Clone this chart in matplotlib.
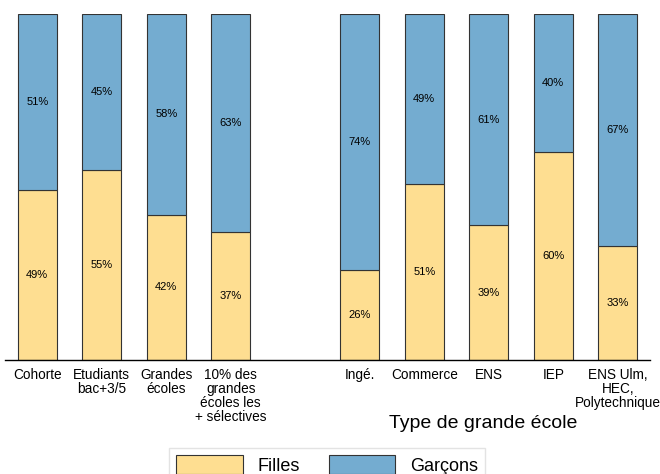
import matplotlib
matplotlib.use('Agg')
import matplotlib.pyplot as plt

plt.rcParams['font.family'] = ['Liberation Sans', 'DejaVu Sans']

# Data
categories = ['Cohorte', 'Etudiants\nbac+3/5', 'Grandes\nécoles',
              '10% des\ngrandes\nécoles les\n+ sélectives',
              'Ingé.', 'Commerce', 'ENS', 'IEP',
              'ENS Ulm,\nHEC,\nPolytechnique']
positions = [0, 1, 2, 3, 5, 6, 7, 8, 9]
filles = [49, 55, 42, 37, 26, 51, 39, 60, 33]
garcons = [51, 45, 58, 63, 74, 49, 61, 40, 67]

yellow = '#FEDE91'
blue = '#74ACD0'

fig = plt.figure(figsize=(6.6, 4.74), dpi=100)
ax = fig.add_axes([5 / 660, 114 / 474, 645 / 660, 346 / 474])

ax.bar(positions, filles, width=0.61, color=yellow, edgecolor='#333333',
       linewidth=0.8, label='Filles')
ax.bar(positions, garcons, width=0.61, bottom=filles, color=blue,
       edgecolor='#333333', linewidth=0.8, label='Garçons')

for x, f, g in zip(positions, filles, garcons):
    ax.text(x, f / 2, f'{f}%', ha='center', va='center', fontsize=8)
    ax.text(x, f + g / 2, f'{g}%', ha='center', va='center', fontsize=8)

ax.set_xlim(-0.5, 9.5)
ax.set_ylim(0, 100)
ax.set_xticks(positions)
ax.set_xticklabels(categories, fontsize=9.8, linespacing=1.0)
ax.tick_params(axis='x', length=0, pad=6)
ax.set_yticks([])
for side in ['left', 'right', 'top']:
    ax.spines[side].set_visible(False)
ax.spines['bottom'].set_linewidth(1.0)

fig.text(483 / 660, 1 - 423 / 474, 'Type de grande école', ha='center',
         va='center', fontsize=14)

fig.legend(loc='upper center', bbox_to_anchor=(327 / 660, 1 - 439 / 474),
           ncol=2, fontsize=13, handlelength=3.7, handleheight=1.2,
           columnspacing=1.6, frameon=True, fancybox=False,
           edgecolor='#dddddd', borderpad=0.4)

plt.savefig('out.png', dpi=100)
plt.close()
